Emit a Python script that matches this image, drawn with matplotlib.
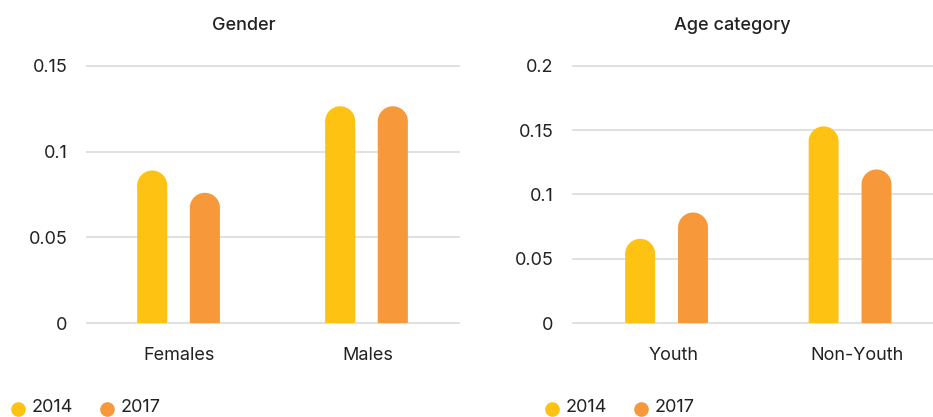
import numpy as np
import matplotlib
matplotlib.use('Agg')
import matplotlib.pyplot as plt
from matplotlib.path import Path
from matplotlib.patches import PathPatch
from matplotlib.lines import Line2D
from matplotlib.transforms import ScaledTranslation

plt.rcParams['font.family'] = ['Inter', 'DejaVu Sans']

years = ['2014', '2017']
colors = ['#FDC212', '#F7983A']

gender_cats = ['Females', 'Males']
gender_2014 = [0.089, 0.1265]
gender_2017 = [0.076, 0.1265]
gender_ticks = [0, 0.05, 0.1, 0.15]
gender_ticklabels = ['0', '0.05', '0.1', '0.15']

age_cats = ['Youth', 'Non-Youth']
age_2014 = [0.0655, 0.153]
age_2017 = [0.086, 0.1195]
age_ticks = [0, 0.05, 0.1, 0.15, 0.2]
age_ticklabels = ['0', '0.05', '0.1', '0.15', '0.2']

W, H = 933, 417
fig = plt.figure(figsize=(W / 100, H / 100), dpi=100)

text_col = '#222222'
grid_col = '#dddddd'


def rounded_bar(ax, x, w, v, color):
    # bar with a fully rounded top, radius = half the bar width in pixels
    x0, x1 = ax.get_xlim()
    y0, y1 = ax.get_ylim()
    ppu_x = ax.bbox.width / (x1 - x0)
    ppu_y = ax.bbox.height / (y1 - y0)
    r_y = (w * ppu_x / 2) / ppu_y
    t = np.linspace(0, np.pi, 40)
    cap_x = x + (w / 2) * np.cos(t)
    cap_y = (v - r_y) + r_y * np.sin(t)
    verts = [(x - w / 2, 0), (x + w / 2, 0)] + list(zip(cap_x, cap_y)) + [(x - w / 2, 0)]
    codes = [Path.MOVETO] + [Path.LINETO] * (len(verts) - 2) + [Path.CLOSEPOLY]
    ax.add_patch(PathPatch(Path(verts, codes), facecolor=color,
                           edgecolor='none', zorder=3))


def panel(rect, xlim, ylim, cats, s14, s17, ticks, ticklabels, title, title_x,
          bw, off, legend_x, label_shift=0):
    ax = fig.add_axes(rect)
    ax.set_xlim(*xlim)
    ax.set_ylim(*ylim)
    for t in ticks:
        ax.axhline(t, color=grid_col, lw=1.3, zorder=1, clip_on=False)
    xs = np.arange(len(cats))
    for i in xs:
        rounded_bar(ax, i - off, bw, s14[i], colors[0])
        rounded_bar(ax, i + off, bw, s17[i], colors[1])
    ax.set_xticks(xs)
    ax.set_xticklabels(cats, fontsize=13, color=text_col)
    ax.set_yticks(ticks)
    ax.set_yticklabels(ticklabels, fontsize=13, color=text_col)
    ax.tick_params(axis='x', length=0, pad=17)
    ax.tick_params(axis='y', length=0, pad=14)
    if label_shift:
        shift = ScaledTranslation(label_shift / 100, 0, fig.dpi_scale_trans)
        for lab in ax.get_xticklabels():
            lab.set_transform(lab.get_transform() + shift)
    for s in ax.spines.values():
        s.set_visible(False)
    fig.text(title_x / W, 1 - 26 / H, title, ha='center', va='center',
             fontsize=13, fontweight='medium', color=text_col)
    # legend: dots with year labels
    lx = legend_x
    for yr, c in zip(years, colors):
        fig.add_artist(Line2D([lx / W], [1 - 409 / H], marker='o', markersize=9.5,
                              color=c, linestyle='none', transform=fig.transFigure))
        fig.text((lx + 14) / W, 1 - 408 / H, yr, ha='left', va='center',
                 fontsize=13, color=text_col)
        lx += 89
    return ax


bottom = 1 - 323 / H
height = (323 - 66) / H

panel([87 / W, bottom, (459 - 87) / W, height], (-0.487, 1.492), (0, 0.15),
      gender_cats, gender_2014, gender_2017, gender_ticks, gender_ticklabels,
      'Gender', 244, 0.16, 0.14, 18, label_shift=1)
panel([573 / W, bottom, (933 - 573) / W, height], (-0.51, 1.452), (0, 0.2),
      age_cats, age_2014, age_2017, age_ticks, age_ticklabels,
      'Age category', 732, 0.163, 0.144, 552, label_shift=7)

fig.savefig('out.png', dpi=100)
